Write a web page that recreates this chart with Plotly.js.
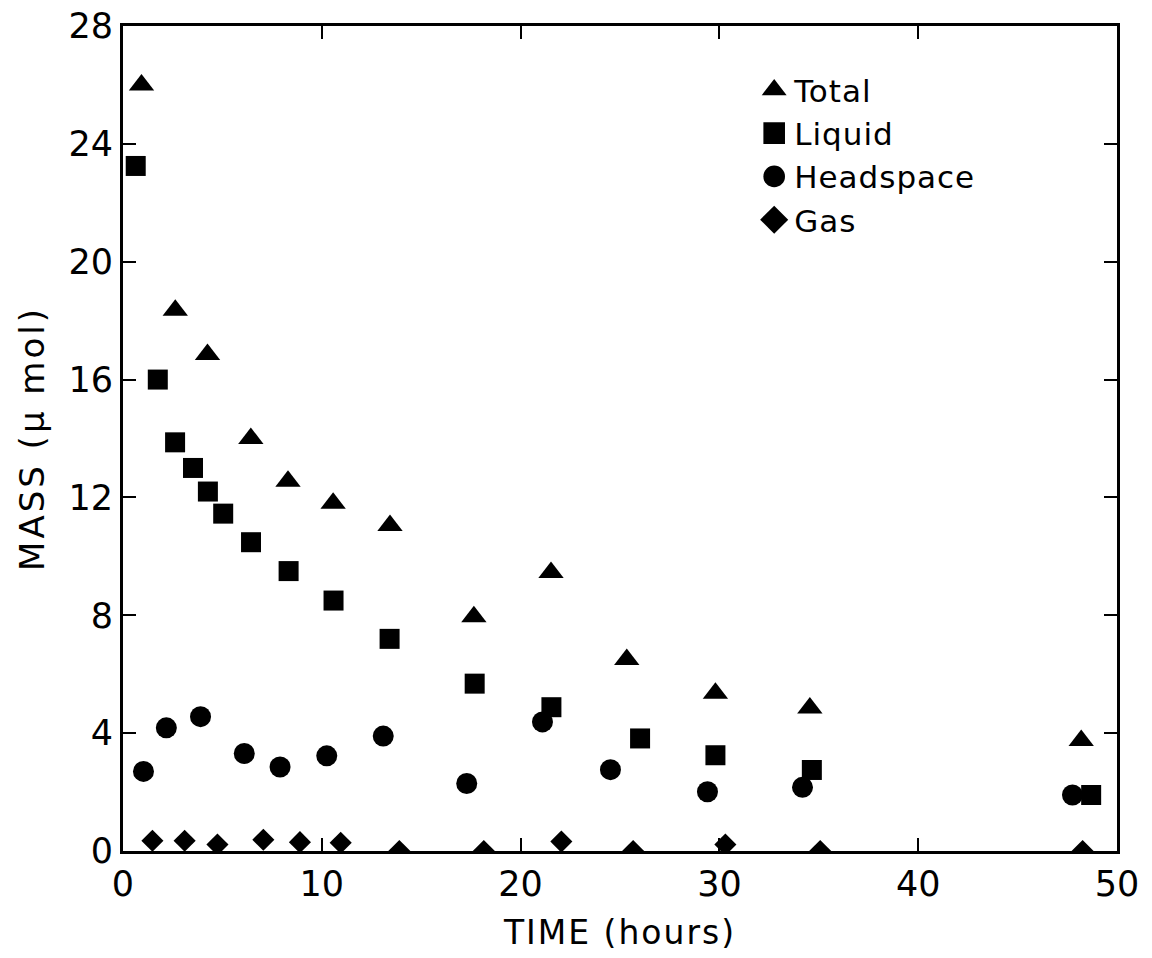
<!DOCTYPE html>
<html>
<head>
<meta charset="utf-8">
<script src="https://cdn.plot.ly/plotly-3.0.1.min.js"></script>
<style>
html,body{margin:0;padding:0;background:#fff;}
#chart{width:1152px;height:958px;}
.xtitle{letter-spacing:2px;}
.ytitle{letter-spacing:3px;}
.legendtext{letter-spacing:1px;}
.legendpoints path.scatterpts{transform:translate(20px,0px) scale(1.35);}
</style>
</head>
<body>
<div id="chart"></div>
<script>
// Data (time in hours, mass in µmol)
const totalTime = [0.93, 2.63, 4.25, 6.43, 8.30, 10.57, 13.43, 17.65, 21.53, 25.34, 29.8, 34.55, 48.2];
const totalMass = [26.0, 18.35, 16.85, 14.0, 12.55, 11.8, 11.05, 7.95, 9.45, 6.5, 5.35, 4.85, 3.75];

const liquidTime = [0.64, 1.75, 2.62, 3.52, 4.27, 5.04, 6.44, 8.33, 10.59, 13.41, 17.69, 21.55, 26.01, 29.8, 34.65, 48.7];
const liquidMass = [23.25, 16.0, 13.87, 13.0, 12.2, 11.45, 10.48, 9.5, 8.5, 7.2, 5.68, 4.88, 3.82, 3.25, 2.75, 1.9];

const headTime = [1.03, 2.18, 3.9, 6.1, 7.9, 10.25, 13.09, 17.29, 21.1, 24.52, 29.4, 34.18, 47.76];
const headMass = [2.7, 4.18, 4.56, 3.31, 2.85, 3.23, 3.9, 2.29, 4.38, 2.76, 2.01, 2.16, 1.9];

const gasTime = [1.48, 3.1, 4.75, 7.06, 8.9, 10.95, 13.9, 18.15, 22.05, 25.66, 30.3, 35.07, 48.27];
const gasMass = [0.35, 0.35, 0.22, 0.38, 0.3, 0.28, 0, 0, 0.32, 0, 0.22, 0, 0];

const seriesNames = ["Total", "Liquid", "Headspace", "Gas"];
const xTicks = [0, 10, 20, 30, 40, 50];
const yTicks = [0, 4, 8, 12, 16, 20, 24, 28];

const FONT = "'DejaVu Sans', sans-serif";

function tr(name, x, y, symbol, size) {
  return {
    type: "scatter", mode: "markers", name: name, x: x, y: y,
    cliponaxis: true,
    marker: {symbol: symbol, size: size, color: "#000", line: {width: 0}}
  };
}

const data = [
  tr(seriesNames[0], totalTime, totalMass, "triangle-up", 22),
  tr(seriesNames[1], liquidTime, liquidMass, "square", 20),
  tr(seriesNames[2], headTime, headMass, "circle", 21),
  tr(seriesNames[3], gasTime, gasMass, "diamond", 17)
];

const axisCommon = {
  showline: true, linecolor: "#000", linewidth: 3, mirror: "ticks",
  ticks: "inside", ticklen: 13, tickwidth: 2, tickcolor: "#000",
  showgrid: false, zeroline: false,
  tickfont: {family: FONT, size: 35, color: "#000"}
};

const layout = {
  width: 1152, height: 958,
  paper_bgcolor: "#fff", plot_bgcolor: "#fff",
  margin: {l: 123, r: 35, t: 26, b: 107},
  showlegend: true,
  legend: {
    x: 0.635, y: 0.955, xanchor: "left", yanchor: "top",
    font: {family: FONT, size: 31, color: "#000"},
    bgcolor: "rgba(0,0,0,0)", tracegroupgap: 0, itemsizing: "trace"
  },
  xaxis: Object.assign({}, axisCommon, {
    range: [0, 50], tickvals: xTicks, ticktext: xTicks.map(String),
    title: {text: "TIME (hours)", font: {family: FONT, size: 33, color: "#000"}, standoff: 18}
  }),
  yaxis: Object.assign({}, axisCommon, {
    range: [0, 28], tickvals: yTicks, ticktext: yTicks.map(String),
    title: {text: "MASS (μ mol)", font: {family: FONT, size: 34, color: "#000"}, standoff: 14}
  })
};

Plotly.newPlot("chart", data, layout, {staticPlot: true, displayModeBar: false});
</script>
</body>
</html>
